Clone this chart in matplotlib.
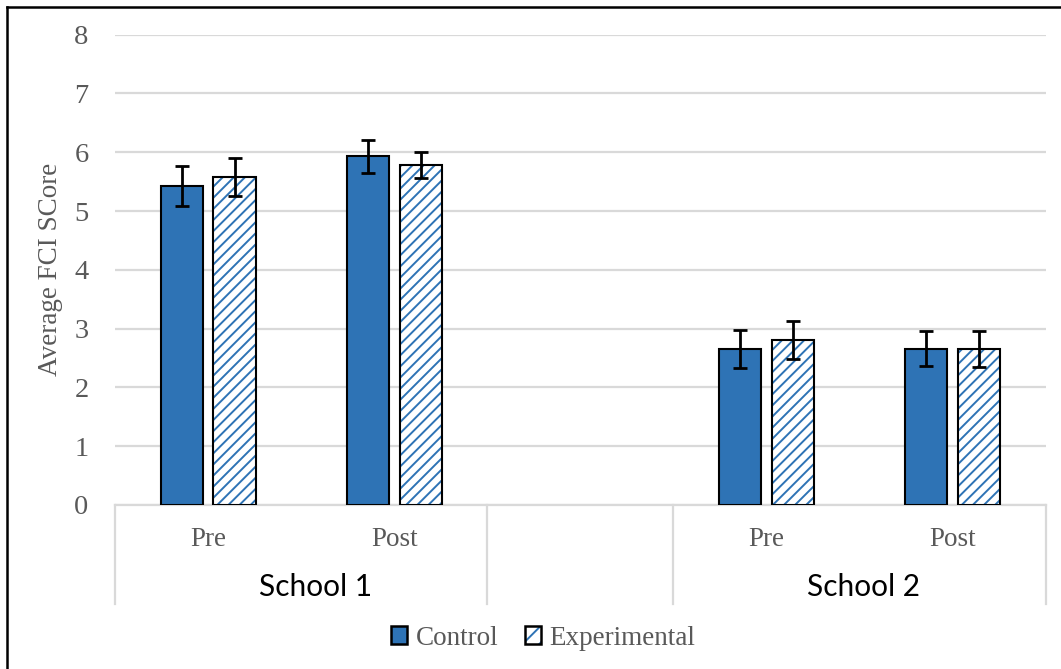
import numpy as np
import matplotlib.pyplot as plt
from matplotlib.patches import Patch
from matplotlib.lines import Line2D

# values
schools = ['School 1', 'School 2']
phases = ['Pre', 'Post']
control = [5.42, 5.93, 2.65, 2.66]
control_err = [0.34, 0.28, 0.32, 0.30]
experimental = [5.58, 5.78, 2.81, 2.65]
experimental_err = [0.32, 0.22, 0.32, 0.31]

blue = '#2E73B5'
grey_txt = '#595959'
grid_c = '#D9D9D9'

plt.rcParams['hatch.linewidth'] = 1.4

fig = plt.figure(figsize=(10.61, 6.69), dpi=100)
ax = fig.add_axes([115/1061, 1-505/669, (1045.7-115)/1061, (505-34.7)/669])

# positions: one empty slot between the two schools
x = []
for i in range(len(schools)):
    for j in range(len(phases)):
        x.append(i*(len(phases)+1) + j)
x = np.array(x, dtype=float)

w = 0.226
off = 0.142
ax.bar(x-off, control, w, color=blue, edgecolor='black', linewidth=1.5, zorder=3)
ax.errorbar(x-off, control, yerr=control_err, fmt='none', ecolor='black',
            elinewidth=2, capsize=5, capthick=2, zorder=4)
ax.bar(x+off, experimental, w, color='white', edgecolor=blue, linewidth=0,
       hatch='///', zorder=3)
ax.bar(x+off, experimental, w, fill=False, edgecolor='black', linewidth=1.5, zorder=3)
ax.errorbar(x+off, experimental, yerr=experimental_err, fmt='none', ecolor='black',
            elinewidth=2, capsize=5, capthick=2, zorder=4)

nslots = len(schools)*(len(phases)+1) - 1
ax.set_xlim(-0.5, nslots - 0.5)
ax.set_ylim(0, 8)
ax.set_yticks(range(0, 9))
ax.yaxis.grid(True, color=grid_c, linewidth=1.6, zorder=0)
ax.set_axisbelow(True)
for s in ['top', 'right', 'left']:
    ax.spines[s].set_visible(False)
ax.spines['bottom'].set_color(grid_c)
ax.spines['bottom'].set_linewidth(1.6)
ax.tick_params(axis='y', length=0, pad=19, labelsize=20.5, labelcolor=grey_txt)
ax.set_yticklabels([str(v) for v in range(0, 9)], family='Liberation Serif')
ax.set_xticks([])
ax.set_ylabel('Average FCI SCore', family='Liberation Serif', fontsize=19.5,
              color=grey_txt, labelpad=8)

# two level category axis
tr = ax.get_xaxis_transform()
for k, xi in enumerate(x):
    ax.text(xi, -0.0744, phases[k % len(phases)], transform=tr, ha='center',
            va='center', family='Liberation Serif', fontsize=19.5, color=grey_txt)
shift = [0.075, 0.02]
for i, s in enumerate(schools):
    xc = i*(len(phases)+1) + (len(phases)-1)/2 + shift[i]
    ax.text(xc, -0.1744, s, transform=tr, ha='center', va='center',
            family='Lato', fontsize=21.5, color='black')
seps = [-0.5, len(phases)-0.5, len(phases)+0.5, nslots-0.5]
for xs in seps:
    ax.plot([xs, xs], [0, -0.2105], transform=tr, color=grid_c, linewidth=1.6,
            clip_on=False)

# legend
h_ctrl = Patch(facecolor=blue, edgecolor='black', linewidth=1.8)
h_exp = (Patch(facecolor='white', edgecolor=blue, linewidth=0, hatch='//'),
         Patch(fill=False, edgecolor='black', linewidth=1.8))
fig.legend([h_ctrl, h_exp], ['Control', 'Experimental'], loc='center',
           bbox_to_anchor=(0.512, 0.0463), ncol=2, frameon=False,
           prop={'family': 'Liberation Serif', 'size': 19.5}, labelcolor=grey_txt,
           handlelength=0.6, handleheight=0.6, handletextpad=0.3,
           columnspacing=1.0)

# chart border (top and left visible)
fig.add_artist(Line2D([7/1061, 1], [1-7/669, 1-7/669], color='black', linewidth=1.8,
                      transform=fig.transFigure))
fig.add_artist(Line2D([7/1061, 7/1061], [0, 1-7/669], color='black', linewidth=1.8,
                      transform=fig.transFigure))

fig.savefig('out.png', dpi=100)
